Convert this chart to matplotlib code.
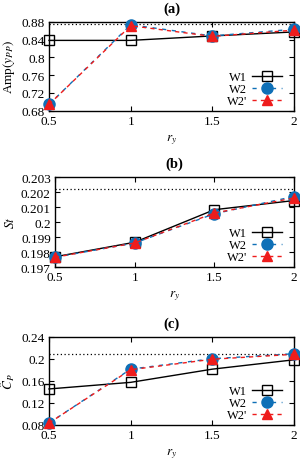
import matplotlib
matplotlib.use("Agg")
import matplotlib.pyplot as plt

plt.rcParams['font.family'] = ['Liberation Serif', 'DejaVu Serif']
plt.rcParams['mathtext.fontset'] = 'stix'

ry = [0.5, 1.0, 1.5, 2.0]

amp_w1 = [0.838, 0.838, 0.848, 0.857]
amp_w2 = [0.694, 0.873, 0.848, 0.863]
amp_w2p = [0.694, 0.871, 0.847, 0.861]
amp_ref = 0.875

st_w1 = [0.19768, 0.19865, 0.20082, 0.20143]
st_w2 = [0.19765, 0.19860, 0.20055, 0.20170]
st_w2p = [0.19765, 0.19860, 0.20060, 0.20160]
st_ref = 0.20222

cp_w1 = [0.145, 0.157, 0.181, 0.198]
cp_w2 = [0.083, 0.181, 0.200, 0.209]
cp_w2p = [0.083, 0.180, 0.199, 0.208]
cp_ref = 0.209

panels = [
    ("(a)", r"Amp$(y_{PP})$", amp_w1, amp_w2, amp_w2p, amp_ref,
     (0.68, 0.88), [0.68, 0.72, 0.76, 0.80, 0.84, 0.88], ["0.68", "0.72", "0.76", "0.8", "0.84", "0.88"]),
    ("(b)", r"$St$", st_w1, st_w2, st_w2p, st_ref,
     (0.197, 0.203), [0.197, 0.198, 0.199, 0.200, 0.201, 0.202, 0.203],
     ["0.197", "0.198", "0.199", "0.2", "0.201", "0.202", "0.203"]),
    ("(c)", r"$\hat{C}_P$", cp_w1, cp_w2, cp_w2p, cp_ref,
     (0.08, 0.24), [0.08, 0.12, 0.16, 0.20, 0.24], ["0.08", "0.12", "0.16", "0.2", "0.24"]),
]

fig = plt.figure(figsize=(3.0, 4.6), dpi=100)
tops = [22.7, 178.0, 337.7]
bots = [111.7, 268.0, 425.7]
lefts = [49, 55, 49]
R = 294
blue = '#0f70b7'
red = '#ee1c1c'
fs = 9.5

for (title, ylab, w1, w2, w2p, ref, ylim, yt, ytl), t, b, l in zip(panels, tops, bots, lefts):
    ax = fig.add_axes([l / 300, 1 - b / 460, (R - l) / 300, (b - t) / 460])
    ax.axhline(ref, color='black', lw=0.9, ls=(0, (1, 2)))
    ax.plot(ry, w1, color='black', lw=1.0, marker='s', ms=7, mfc='none', mec='black', mew=1.0,
            label='W1', clip_on=False, zorder=3)
    ax.plot(ry, w2, color=blue, lw=1.0, ls=(0, (3, 4)), marker='o', ms=8, mfc=blue, mec=blue,
            label='W2', clip_on=False, zorder=4)
    ax.plot(ry, w2p, color=red, lw=1.0, ls=(0, (3, 3)), marker='^', ms=7.5, mfc=red, mec=red,
            label="W2'", clip_on=False, zorder=5)
    ax.set_xlim(0.5, 2.0)
    ax.set_ylim(*ylim)
    ax.set_xticks(ry)
    ax.set_xticklabels(["0.5", "1", "1.5", "2"])
    ax.set_yticks(yt)
    ax.set_yticklabels(ytl)
    ax.tick_params(direction='in', top=True, right=True, labelsize=fs, length=3.5, width=0.8, pad=3)
    for s in ax.spines.values():
        s.set_linewidth(1.0)
    ax.set_title(title, fontsize=10.5, fontweight='bold', pad=7)
    ax.set_xlabel(r"$r_y$", fontsize=fs, labelpad=4)
    ax.set_ylabel(ylab, fontsize=fs, labelpad=3)
    axw = R - l
    leg = ax.legend(loc='lower right', bbox_to_anchor=(1 - 12 / axw, 0.04), frameon=False,
                    fontsize=9, markerfirst=False, handlelength=2.4, handletextpad=0.4,
                    labelspacing=0.0, borderaxespad=0.0, borderpad=0.0)
    for txt in leg.get_texts():
        txt.set_ha('right')

fig.savefig("out.png", dpi=100)
